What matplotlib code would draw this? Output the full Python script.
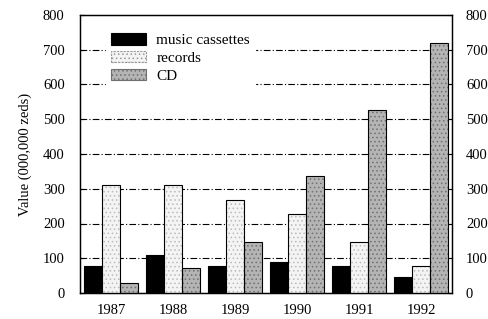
import matplotlib
matplotlib.use("Agg")
import matplotlib.pyplot as plt
import numpy as np
from matplotlib.patches import Patch

years = ["1987", "1988", "1989", "1990", "1991", "1992"]
cassettes = [78, 108, 78, 88, 77, 46]
records = [310, 310, 268, 227, 146, 78]
cd = [30, 73, 148, 338, 528, 720]
yticks = [0, 100, 200, 300, 400, 500, 600, 700, 800]

plt.rcParams['font.family'] = ['Liberation Serif', 'DejaVu Serif']
plt.rcParams['hatch.linewidth'] = 0.6

fig = plt.figure(figsize=(4.88, 3.19), dpi=100)
ax = fig.add_axes([80/488, 1 - 293/319, 372/488, 278/319])

x = np.arange(len(years))
w = 0.29

for v in yticks[1:-1]:
    ax.axhline(v, color='black', lw=0.8, ls=(0, (6, 2, 1, 2)), zorder=1)

ax.bar(x - w, cassettes, w, color='black', edgecolor='black', lw=0.8, zorder=3)
ax.bar(x, records, w, color='#f4f4f4', edgecolor='#bbbbbb', hatch='....', lw=0, zorder=3)
ax.bar(x, records, w, color='none', edgecolor='black', lw=0.8, zorder=4)
ax.bar(x + w, cd, w, color='#b4b4b4', edgecolor='#707070', hatch='....', lw=0, zorder=3)
ax.bar(x + w, cd, w, color='none', edgecolor='black', lw=0.8, zorder=4)

handles = [
    Patch(facecolor='black', edgecolor='black', lw=0.8),
    Patch(facecolor='#f4f4f4', edgecolor='#999999', hatch='....', lw=0.8, ls=(0, (2, 1))),
    Patch(facecolor='#b4b4b4', edgecolor='#707070', hatch='....', lw=0.8),
]
leg = ax.legend(handles, ['music cassettes', 'records', 'CD'],
                loc='upper left', bbox_to_anchor=(0.07, 0.95), frameon=True,
                fancybox=False, edgecolor='white', facecolor='white', framealpha=1,
                fontsize=11, handlelength=2.3, handleheight=0.75,
                labelspacing=0.25, borderpad=0.3, borderaxespad=0, handletextpad=0.7)
leg.set_zorder(5)

ax.set_xlim(-0.5, 5.5)
ax.set_ylim(0, 800)
ax.set_xticks(x)
ax.set_xticklabels(years, fontsize=10.5)
ax.set_yticks(yticks)
ax.set_yticklabels([str(v) for v in yticks], fontsize=10.5)
ax.tick_params(axis='x', length=0, pad=8)
ax.tick_params(axis='y', direction='in', length=3, pad=11)
ax.set_ylabel('Value (000,000 zeds)', fontsize=10.5, labelpad=8)

ax2 = ax.twinx()
ax2.set_ylim(0, 800)
ax2.set_yticks(yticks)
ax2.set_yticklabels([str(v) for v in yticks], fontsize=10.5)
ax2.tick_params(axis='y', direction='in', length=3, pad=10)

for a in (ax, ax2):
    for s in a.spines.values():
        s.set_linewidth(0.9)

fig.savefig('out.png', dpi=100)
